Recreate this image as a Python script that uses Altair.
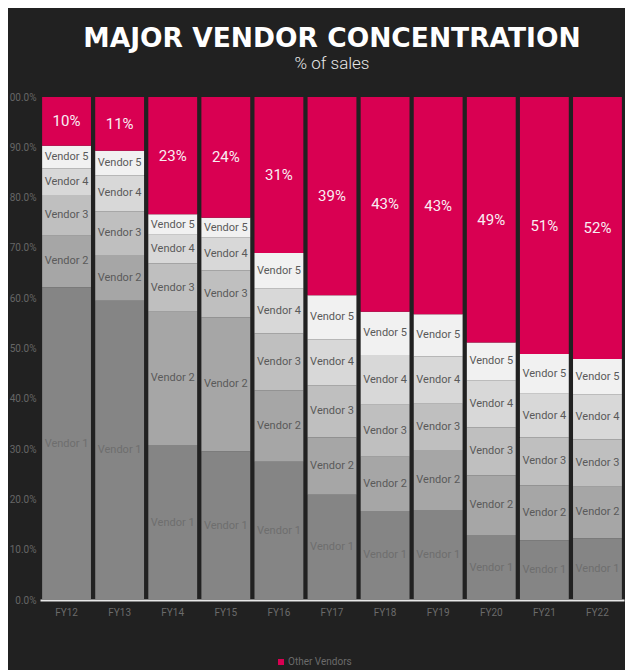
import altair as alt
import pandas as pd

years = ["FY12", "FY13", "FY14", "FY15", "FY16", "FY17", "FY18", "FY19", "FY20", "FY21", "FY22"]
vendor1 = [62.2, 59.5, 30.8, 29.5, 27.5, 20.9, 17.7, 17.9, 12.9, 11.9, 12.3]
vendor2 = [10.2, 9.1, 26.5, 26.7, 14.2, 11.4, 10.8, 11.9, 11.9, 10.9, 10.2]
vendor3 = [8.1, 8.7, 9.6, 9.3, 11.3, 10.4, 10.3, 9.2, 9.5, 9.5, 9.4]
vendor4 = [5.3, 7.1, 5.7, 6.6, 9.0, 9.1, 9.9, 9.4, 9.4, 8.7, 9.0]
vendor5 = [4.5, 4.9, 4.1, 3.9, 7.0, 8.8, 8.6, 8.4, 7.5, 7.9, 7.0]
other = [9.7, 10.7, 23.3, 24.0, 31.0, 39.4, 42.7, 43.2, 48.8, 51.1, 52.1]

segment_names = ["Vendor 1", "Vendor 2", "Vendor 3", "Vendor 4", "Vendor 5", "Other Vendors"]
segment_colors = ["#858585", "#a6a6a6", "#bfbfbf", "#d8d8d8", "#f1f1f1", "#d90052"]
y_ticks = [0, 0.1, 0.2, 0.3, 0.4, 0.5, 0.6, 0.7, 0.8, 0.9, 1.0]

series = [vendor1, vendor2, vendor3, vendor4, vendor5, other]
rows = []
for i, yr in enumerate(years):
    cum = 0.0
    for k, (name, vals) in enumerate(zip(segment_names, series)):
        v = vals[i]
        rows.append({
            "year": yr, "seg": name, "order": k,
            "value": v / 100, "start": cum / 100, "end": (cum + v) / 100,
            "mid": (cum + v / 2) / 100,
        })
        cum += v
df = pd.DataFrame(rows)

x_enc = alt.X(
    "year:N", sort=years,
    scale=alt.Scale(paddingInner=0.08, paddingOuter=0.04),
    axis=alt.Axis(title=None, labelAngle=0, ticks=False, domainColor="#e8e8e8",
                  domainWidth=2, labelColor="#6b6b6b", labelFont="Roboto",
                  labelFontSize=10, labelPadding=7),
)
y_scale = alt.Scale(domain=[0, 1], nice=False)

base = alt.Chart(df)

bars = base.mark_bar(strokeWidth=0).encode(
    x=x_enc,
    y=alt.Y("start:Q", scale=y_scale,
            axis=alt.Axis(title=None, format=".1%", values=y_ticks, ticks=False,
                          domain=False, grid=False, labelColor="#666666",
                          labelFont="Roboto", labelFontSize=10, labelPadding=4)),
    y2="end:Q",
    color=alt.Color(
        "seg:N",
        scale=alt.Scale(domain=segment_names, range=segment_colors),
        legend=alt.Legend(
            title=None, values=["Other Vendors"], orient="none",
            legendX=236, legendY=560, symbolType="square", symbolSize=36,
            symbolStrokeWidth=0, labelColor="#6b6b6b", labelFont="Roboto",
            labelFontSize=10, labelOffset=2, padding=0,
        ),
    ),
)

vendor_text = base.transform_filter(alt.datum.seg != "Other Vendors").mark_text(
    font="Roboto", fontSize=11
).encode(
    x=alt.X("year:N", sort=years),
    y=alt.Y("mid:Q", scale=y_scale),
    text="seg:N",
    color=alt.condition(alt.datum.seg == "Vendor 1", alt.value("#6e6e6e"), alt.value("#5a5a5a")),
)

other_text = base.transform_filter(alt.datum.seg == "Other Vendors").mark_text(
    font="Roboto", fontSize=15, color="#f8eef2"
).encode(
    x=alt.X("year:N", sort=years),
    y=alt.Y("mid:Q", scale=y_scale),
    text=alt.Text("value:Q", format=".0%"),
)

chart = alt.layer(bars, vendor_text, other_text).properties(
    width=584,
    height=503,
    padding={"left": 32, "top": 89, "right": 1, "bottom": 70},
    autosize=alt.AutoSizeParams(type="none"),
    background="#212121",
    title=alt.TitleParams(
        "MAJOR VENDOR CONCENTRATION",
        subtitle="% of sales",
        font="DejaVu Sans", fontSize=26.5, fontWeight="bold", color="#ffffff",
        subtitleFont="Roboto", subtitleFontSize=17, subtitleFontWeight=300,
        subtitleColor="#e6e6e6", anchor="middle", offset=20, subtitlePadding=4,
    ),
).configure_view(stroke=None)

chart.save("out.html", embed_options={"renderer": "svg", "actions": False})
